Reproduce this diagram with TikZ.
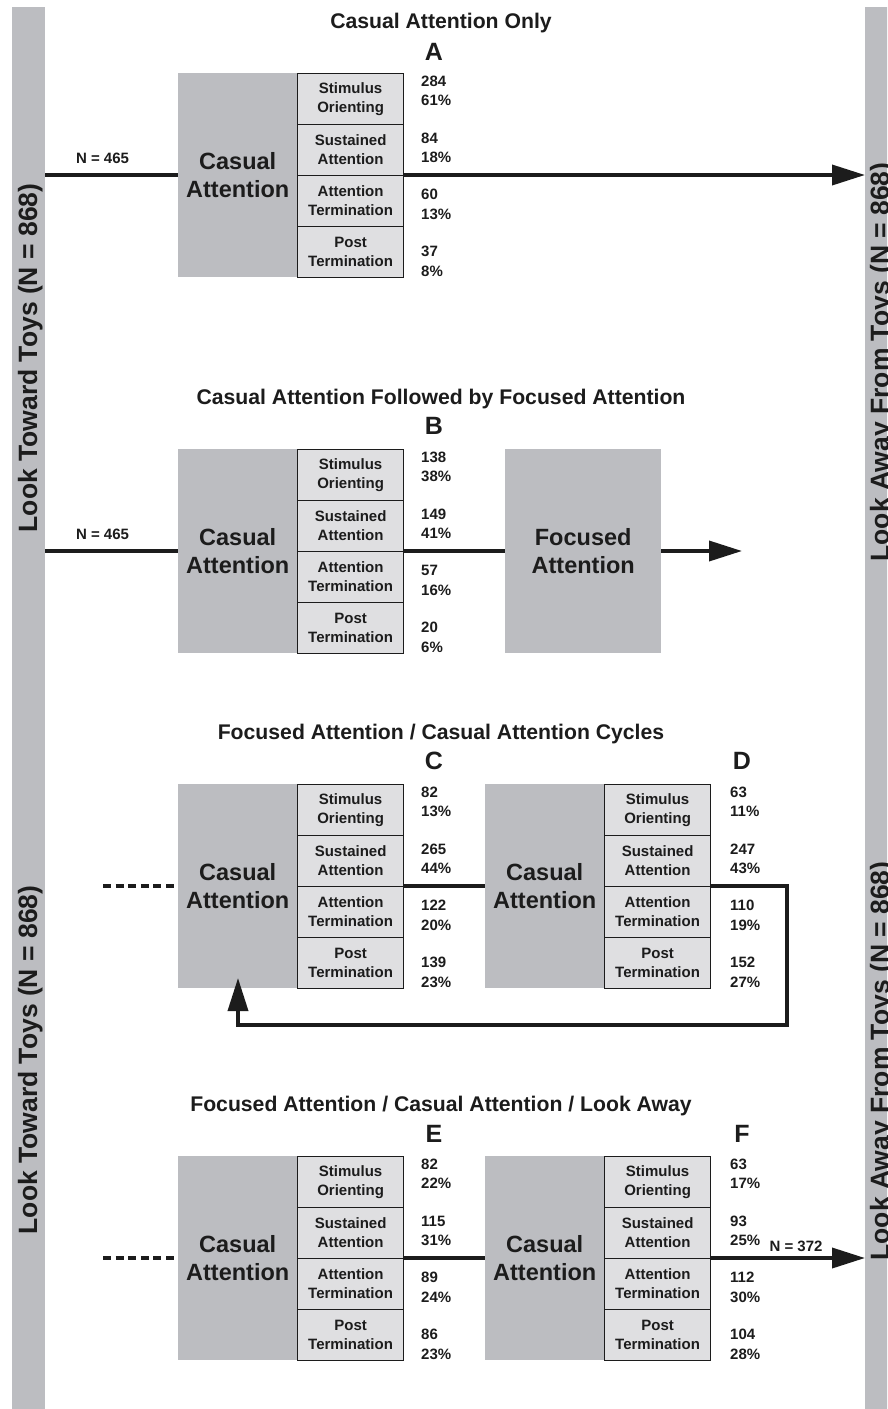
\documentclass[tikz,border=0pt]{standalone}
\usepackage{fontspec}
\setmainfont{Liberation Sans}
\usetikzlibrary{arrows.meta}
\definecolor{bargray}{RGB}{188,189,193}
\definecolor{subgray}{RGB}{223,223,225}
\definecolor{ink}{RGB}{28,28,28}
\begin{document}
\begin{tikzpicture}[x=1pt,y=-1pt,
  bar/.style={fill=bargray,minimum width=33pt,minimum height=1402pt,anchor=north west,inner sep=0pt},
  bartext/.style={rotate=90,anchor=base,inner sep=0pt,text=ink,font=\fontsize{26.5}{30}\selectfont\bfseries},
  bigbox/.style={fill=bargray,minimum width=119pt,minimum height=204pt,anchor=north west,inner sep=0pt,align=center,text=ink,font=\fontsize{23.5}{28}\selectfont\bfseries},
  subbox/.style={draw=ink,line width=1.2pt,fill=subgray,minimum width=106pt,minimum height=51pt,anchor=north west,inner sep=0pt,align=center,text=ink,font=\fontsize{15}{19}\selectfont\bfseries},
  count/.style={anchor=west,inner sep=0pt,align=left,text=ink,font=\fontsize{15}{19.5}\selectfont\bfseries},
  title/.style={anchor=base,inner sep=0pt,text=ink,font=\fontsize{21.2}{25}\selectfont\bfseries},
  letter/.style={anchor=base,inner sep=0pt,text=ink,font=\fontsize{25}{30}\selectfont\bfseries},
  nlabel/.style={inner sep=0pt,text=ink,font=\fontsize{15}{18}\selectfont\bfseries},
  flow/.style={draw=ink,line width=3.6pt},
  tip/.style={-{Triangle[length=33pt,width=20pt]}},
  dotted line/.style={dash pattern=on 8pt off 4.6pt}]
\path[use as bounding box,fill=white] (0,0) rectangle (887,1409);
\clip (0,0) rectangle (887,1409);
% side bars
\node[bar] (lbar) at (12,7) {};
\node[bar] (rbar) at (865,7) {};
\node[bartext] (lt1) at (37,358) {Look Toward Toys (N = 868)};
\node[bartext] (lt2) at (37,1060) {Look Toward Toys (N = 868)};
\node[bartext] (rt1) at (889,362) {Look Away From Toys (N = 868)};
\node[bartext] (rt2) at (889,1061) {Look Away From Toys (N = 868)};
% titles
\node[title] (hA) at (441,28) {Casual Attention Only};
\node[title] (hB) at (441,404) {Casual Attention Followed by Focused Attention};
\node[title] (hC) at (441,739) {Focused Attention / Casual Attention Cycles};
\node[title] (hE) at (441,1111) {Focused Attention / Casual Attention / Look Away};
\foreach \b/\x/\y in {A/434/60,B/434/434,C/434/769,D/742/769,E/434/1142,F/742/1142}
  \node[letter] (t\b) at (\x,\y) {\b};
% casual attention blocks
\foreach \b/\x/\y in {A/178/73,B/178/449,C/178/784,D/485/784,E/178/1156,F/485/1156} {
  \node[bigbox] (ca\b) at (\x,\y) {Casual\\Attention};
  \foreach \t [count=\i] in {Stimulus\\Orienting,Sustained\\Attention,Attention\\Termination,Post\\Termination}
    \node[subbox] (\b\i) at (\x+119,\y+51*\i-51) {\t};
}
\node[bigbox,minimum width=156pt] (foc) at (505,449) {Focused\\Attention};
% counts
\foreach \b/\x/\y/\vals in {A/421/73/{284/61,84/18,60/13,37/8},
    B/421/449/{138/38,149/41,57/16,20/6},
    C/421/784/{82/13,265/44,122/20,139/23},
    D/730/784/{63/11,247/43,110/19,152/27},
    E/421/1156/{82/22,115/31,89/24,86/23},
    F/730/1156/{63/17,93/25,112/30,104/28}}
  \foreach \m/\p [count=\i] in \vals
    \node[count] (n\b\i) at (\x,\y-38.7+56.7*\i) {\m\\\p\%};
% flows
\node[nlabel] (nA) at (102.5,158) {N = 465};
\node[nlabel] (nB) at (102.5,534) {N = 465};
\node[nlabel] (nF) at (796,1246.5) {N = 372};
\draw[flow] (lbar.east |- A3.north) -- (caA.west |- A3.north);
\draw[flow,tip] (A3.north east) -- (rbar.west |- A3.north);
\draw[flow] (lbar.east |- B3.north) -- (caB.west |- B3.north);
\draw[flow] (B3.north east) -- (foc.west |- B3.north);
\coordinate (bEnd) at (742,551);
\draw[flow,tip] (foc.east |- B3.north) -- (bEnd);
\coordinate (cDash) at (103,886);
\coordinate (loopR) at (787,1025);
\coordinate (loopTip) at (238,978);
\draw[flow,dotted line] (cDash) -- (caC.west |- C3.north);
\draw[flow] (C3.north east) -- (caD.west |- C3.north);
\draw[flow,tip] (D3.north east) -| (loopR) -| (loopTip);
\coordinate (eDash) at (103,1258);
\draw[flow,dotted line] (eDash) -- (caE.west |- E3.north);
\draw[flow] (E3.north east) -- (caF.west |- E3.north);
\draw[flow,tip] (F3.north east) -- (rbar.west |- F3.north);
\end{tikzpicture}
\end{document}
